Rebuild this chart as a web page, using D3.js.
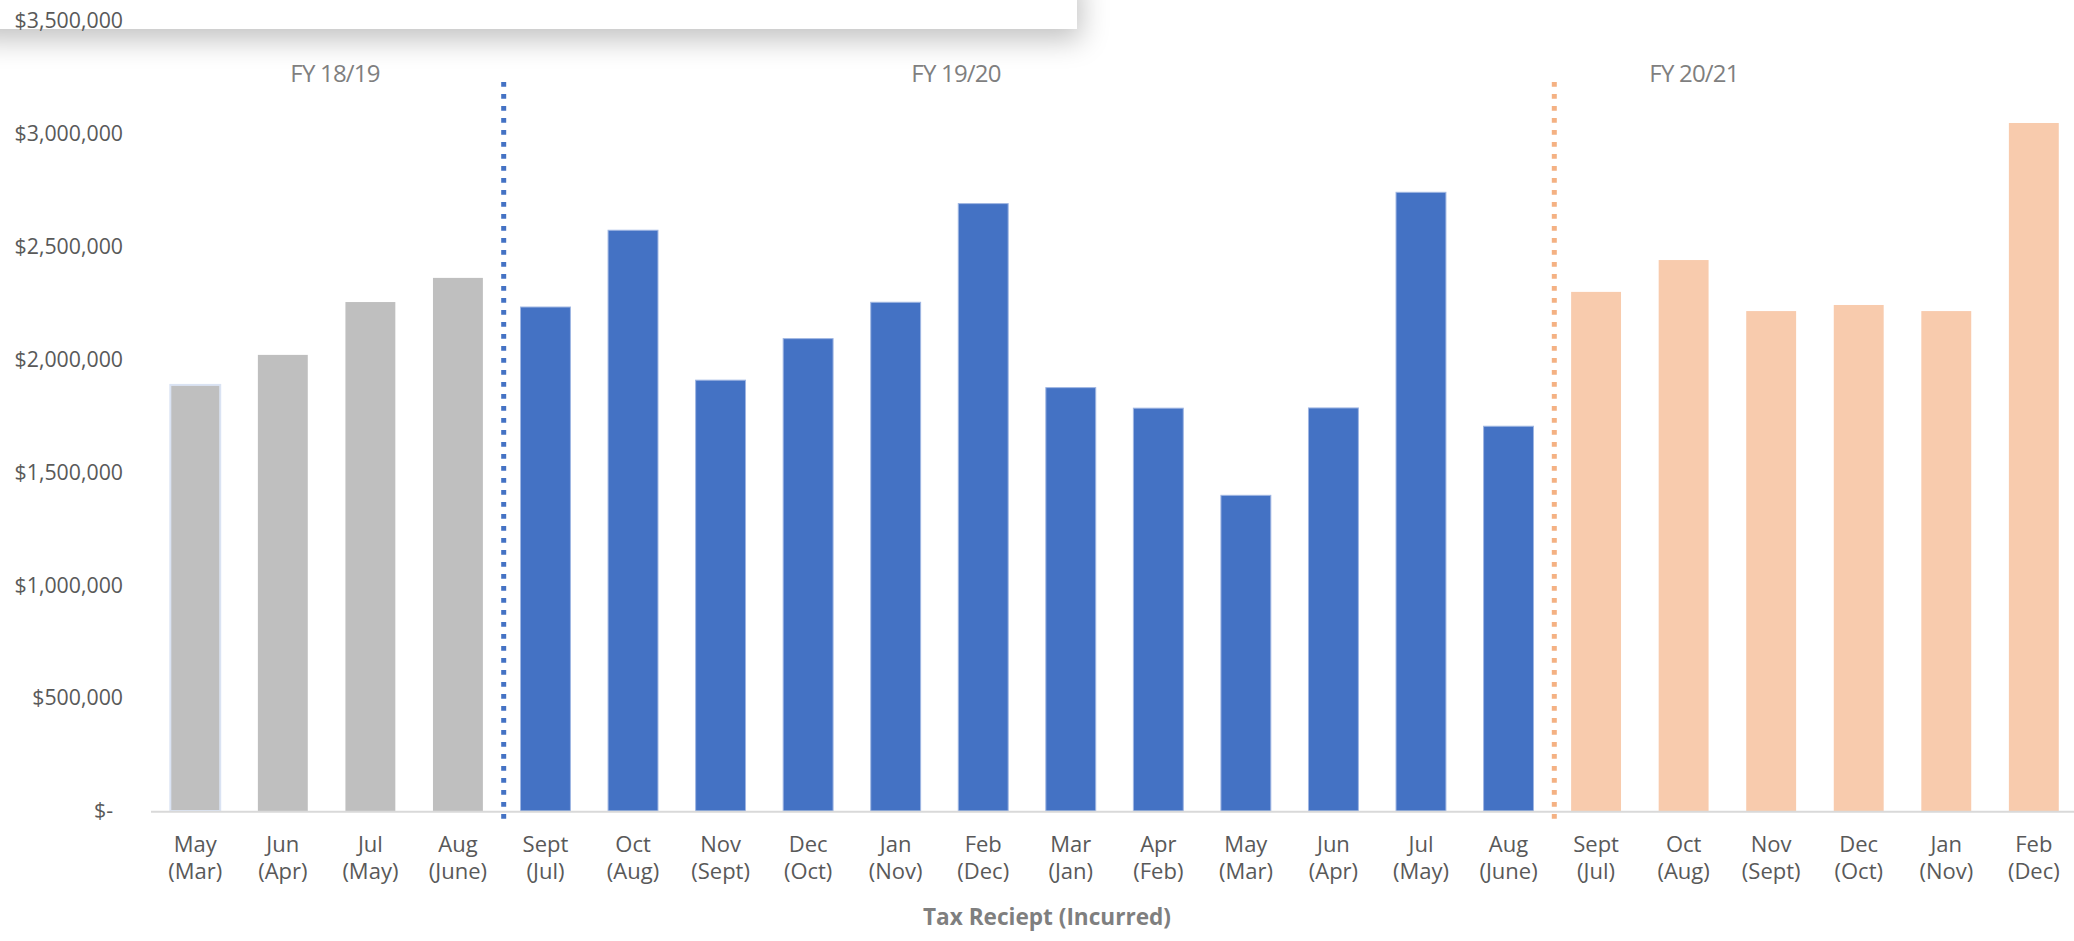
<!DOCTYPE html>
<html>
<head>
<meta charset="utf-8">
<script src="https://cdn.jsdelivr.net/npm/d3@7/dist/d3.min.js"></script>
<style>
  body { margin: 0; background: #fff; }
  text { font-family: 'Open Sans', sans-serif; }
</style>
</head>
<body>
<svg id="chart" width="2074" height="941"></svg>
<script>
//
// Data
//

// month the tax was received, and (month it was incurred)
var receiptMonths = ['May', 'Jun', 'Jul', 'Aug', 'Sept', 'Oct', 'Nov', 'Dec', 'Jan', 'Feb', 'Mar',
  'Apr', 'May', 'Jun', 'Jul', 'Aug', 'Sept', 'Oct', 'Nov', 'Dec', 'Jan', 'Feb']
var incurredMonths = ['Mar', 'Apr', 'May', 'June', 'Jul', 'Aug', 'Sept', 'Oct', 'Nov', 'Dec', 'Jan',
  'Feb', 'Mar', 'Apr', 'May', 'June', 'Jul', 'Aug', 'Sept', 'Oct', 'Nov', 'Dec']
var fyNames = ['FY 18/19', 'FY 19/20', 'FY 20/21']
var fy1819 = [1887000, 2020000, 2254000, 2361000]
var fy1920 = [2232000, 2572000, 1908000, 2092000, 2253000, 2690000, 1875000, 1784000, 1398000,
  1785000, 2740000, 1704000]
var fy2021 = [2299000, 2440000, 2214000, 2241000, 2214000, 3047000]
var yTicks = [0, 500000, 1000000, 1500000, 2000000, 2500000, 3000000, 3500000]

//
// Config
//

var width = 2074
var height = 941
var fyColors = ['#bfbfbf', '#4472c4', '#f8cbad']
var fyStrokes = ['none', '#9fb6e2', 'none']
var dividerColors = [null, '#4472c4', '#f4b183']
var fyLabelX = [335, 956, 1694]
var labelColor = '#595959'

//
// Build rows
//

var rows = []
;[fy1819, fy1920, fy2021].forEach(function(vals, g) {
  vals.forEach(function(v) {
    var i = rows.length
    rows.push({ i: i, fy: g, value: v, top: receiptMonths[i], bottom: incurredMonths[i] })
  })
})

var svg = d3.select('#chart')

var x = d3.scaleBand()
  .domain(rows.map(function(d) { return d.i }))
  .range([151.5, 2077.6])
  .paddingInner(0.43)
  .paddingOuter(0.215)

var y = d3.scaleLinear()
  .domain([0, 3500000])
  .range([811, 20.7])

// overlapping window with drop shadow at the top
var defs = svg.append('defs')
var shadow = defs.append('filter').attr('id', 'shadow')
  .attr('x', '-10%').attr('y', '-100%').attr('width', '120%').attr('height', '400%')
shadow.append('feDropShadow')
  .attr('dx', 4).attr('dy', 11).attr('stdDeviation', 14)
  .attr('flood-color', '#000').attr('flood-opacity', 0.24)

svg.append('rect')
  .attr('x', -30).attr('y', -30)
  .attr('width', 1107).attr('height', 59)
  .attr('fill', '#fff')
  .attr('filter', 'url(#shadow)')

// bars
svg.append('g').selectAll('rect')
  .data(rows)
  .enter().append('rect')
    .attr('x', function(d) { return x(d.i) })
    .attr('y', function(d) { return y(d.value) })
    .attr('width', x.bandwidth())
    .attr('height', function(d) { return y(0) - y(d.value) })
    .attr('fill', function(d) { return fyColors[d.fy] })
    .attr('stroke', function(d) { return d.i === 0 ? '#dae3f3' : fyStrokes[d.fy] })
    .attr('stroke-width', function(d) { return d.i === 0 ? 2 : 1 })

// category axis line
svg.append('line')
  .attr('x1', 151).attr('x2', width)
  .attr('y1', y(0) + 0.7).attr('y2', y(0) + 0.7)
  .attr('stroke', '#d9d9d9')
  .attr('stroke-width', 2)

// dotted dividers between financial years
var gap = x.step() - x.bandwidth()
var dividers = rows.filter(function(d, k) { return k > 0 && rows[k - 1].fy !== d.fy })
svg.append('g').selectAll('line')
  .data(dividers)
  .enter().append('line')
    .attr('x1', function(d) { return x(d.i) - gap / 2 + 2 })
    .attr('x2', function(d) { return x(d.i) - gap / 2 + 2 })
    .attr('y1', 82).attr('y2', 819)
    .attr('stroke', function(d) { return dividerColors[d.fy] })
    .attr('stroke-width', 5)
    .attr('stroke-dasharray', '4.7,7.3')

// y axis
var yAxis = svg.append('g')
  .attr('transform', 'translate(123,0)')
  .call(d3.axisLeft(y)
    .tickValues(yTicks)
    .tickSize(0)
    .tickPadding(0)
    .tickFormat(function(d) { return d === 0 ? '$-' : d3.format('$,')(d) }))
yAxis.select('.domain').remove()
yAxis.selectAll('text')
  .attr('font-family', "'Open Sans', sans-serif")
  .attr('font-size', 21.3)
  .attr('fill', labelColor)
  .attr('x', function(d) { return d === 0 ? -10 : 0 })

// x axis, two lines per tick
var xAxis = svg.append('g')
  .attr('transform', 'translate(0,' + y(0) + ')')
  .call(d3.axisBottom(x).tickSize(0).tickFormat(''))
xAxis.select('.domain').remove()
var xText = xAxis.selectAll('.tick text')
  .attr('font-family', "'Open Sans', sans-serif")
  .attr('font-size', 22)
  .attr('fill', labelColor)
  .attr('y', 0)
  .attr('dy', null)
xText.append('tspan')
  .attr('x', 0).attr('y', 40.5)
  .text(function(d) { return rows[d].top })
xText.append('tspan')
  .attr('x', 0).attr('y', 68)
  .text(function(d) { return '(' + rows[d].bottom + ')' })

// financial year labels
svg.append('g').selectAll('text')
  .data(fyNames)
  .enter().append('text')
    .attr('x', function(d, k) { return fyLabelX[k] })
    .attr('y', 82)
    .attr('text-anchor', 'middle')
    .attr('font-size', 24)
    .attr('letter-spacing', -0.8)
    .attr('fill', '#7f7f7f')
    .text(function(d) { return d })

// axis title
svg.append('text')
  .attr('x', 1047)
  .attr('y', 925)
  .attr('text-anchor', 'middle')
  .attr('font-size', 22.6)
  .attr('font-weight', 'bold')
  .attr('fill', '#7f7f7f')
  .text('Tax Reciept (Incurred)')
</script>
</body>
</html>
